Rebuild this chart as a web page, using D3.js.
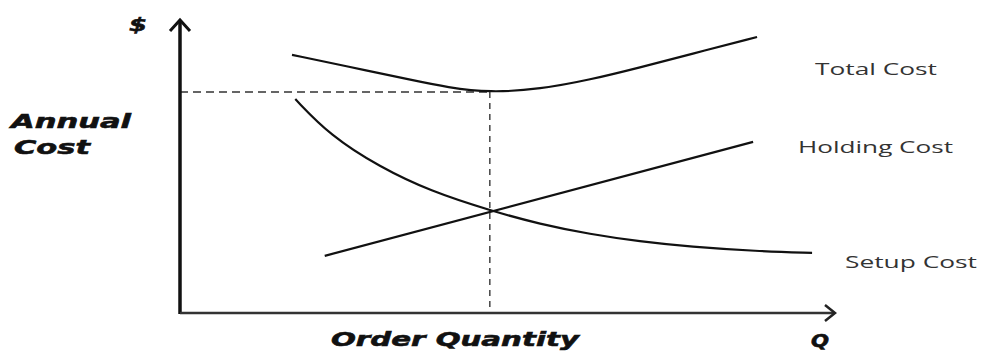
<!DOCTYPE html>
<html>
<head>
<meta charset="utf-8">
<script src="https://cdn.jsdelivr.net/npm/d3@7"></script>
<style>
  html, body { margin: 0; padding: 0; background: #fff; }
  svg { display: block; }
</style>
</head>
<body>
<svg id="chart" width="982" height="351"></svg>
<script>
// ---- data (arbitrary units) ----
const totalCostQ = [17.1, 25.5, 35.6, 40.8, 47.3, 55.0, 62.6, 70.2, 77.9, 88.1];
const totalCostC = [88.1, 84.2, 79.4, 77.0, 75.2, 76.4, 79.6, 83.8, 88.3, 94.2];

const setupCostQ = [17.6, 22.9, 30.5, 38.2, 47.3, 55.0, 62.6, 70.2, 77.9, 88.1, 96.5];
const setupCostC = [73.0, 60.6, 49.8, 41.6, 35.0, 30.3, 26.9, 24.4, 22.6, 21.1, 20.5];

const holdingCostQ = [22.1, 87.5];
const holdingCostC = [19.5, 58.4];

const eoqQ = 47.3;
const eoqC = 75.4;

const seriesLabels = ["Total Cost", "Holding Cost", "Setup Cost"];
const axisLabels = { yTop: "$", yTitle: ["Annual", "Cost"], xTitle: "Order Quantity", xEnd: "Q" };

// ---- scales ----
const x = d3.scaleLinear().domain([0, 100]).range([180, 835]);
const y = d3.scaleLinear().domain([0, 100]).range([313, 20]);

const svg = d3.select("#chart");

const line = d3.line().x(d => x(d[0])).y(d => y(d[1])).curve(d3.curveBasis);
const zip = (a, b) => a.map((v, i) => [v, b[i]]);

// dashed guides
svg.append("line")
  .attr("x1", x(0)).attr("x2", x(eoqQ))
  .attr("y1", y(eoqC)).attr("y2", y(eoqC))
  .attr("stroke", "#333").attr("stroke-width", 1.5).attr("stroke-dasharray", "8,5");
svg.append("line")
  .attr("x1", x(eoqQ)).attr("x2", x(eoqQ))
  .attr("y1", y(eoqC)).attr("y2", y(0))
  .attr("stroke", "#444").attr("stroke-width", 1.5).attr("stroke-dasharray", "6,5");

// curves
[[totalCostQ, totalCostC], [setupCostQ, setupCostC], [holdingCostQ, holdingCostC]].forEach(([q, c]) => {
  svg.append("path")
    .attr("d", line(zip(q, c)))
    .attr("fill", "none")
    .attr("stroke", "#111")
    .attr("stroke-width", 2.2);
});

// axes
svg.append("line")
  .attr("x1", x(0)).attr("x2", x(0)).attr("y1", y(0) + 1).attr("y2", y(100) + 1)
  .attr("stroke", "#111").attr("stroke-width", 3.5);
svg.append("path")
  .attr("d", `M${x(0) - 10},${y(100) + 11} L${x(0)},${y(100)} L${x(0) + 10},${y(100) + 11}`)
  .attr("fill", "none").attr("stroke", "#111").attr("stroke-width", 3);

svg.append("line")
  .attr("x1", x(0)).attr("x2", x(100) - 1).attr("y1", y(0)).attr("y2", y(0))
  .attr("stroke", "#333").attr("stroke-width", 2.5);
svg.append("path")
  .attr("d", `M${x(100) - 10},${y(0) - 8} L${x(100)},${y(0)} L${x(100) - 10},${y(0) + 8}`)
  .attr("fill", "none").attr("stroke", "#222").attr("stroke-width", 2.5);

// heavy italic labels
const heavy = (sel) => sel
  .attr("font-family", "'DejaVu Sans', sans-serif")
  .attr("font-weight", "bold")
  .attr("font-style", "italic")
  .attr("fill", "#111")
  .attr("stroke", "#111").attr("stroke-width", 0.6);

heavy(svg.append("text")).attr("x", 129).attr("y", 31).attr("font-size", 17)
  .attr("textLength", 18).attr("lengthAdjust", "spacingAndGlyphs").text(axisLabels.yTop);
heavy(svg.append("text")).attr("x", 11).attr("y", 128).attr("font-size", 20)
  .attr("textLength", 120).attr("lengthAdjust", "spacingAndGlyphs").text(axisLabels.yTitle[0]);
heavy(svg.append("text")).attr("x", 14).attr("y", 154).attr("font-size", 20)
  .attr("textLength", 76).attr("lengthAdjust", "spacingAndGlyphs").text(axisLabels.yTitle[1]);
heavy(svg.append("text")).attr("x", 331).attr("y", 346).attr("font-size", 20)
  .attr("textLength", 248).attr("lengthAdjust", "spacingAndGlyphs").text(axisLabels.xTitle);
heavy(svg.append("text")).attr("x", 811).attr("y", 347).attr("font-size", 17)
  .attr("textLength", 18).attr("lengthAdjust", "spacingAndGlyphs").text(axisLabels.xEnd);

// series labels
const labelPos = [[815, 75, 122], [798, 153, 155], [845, 268, 132]];
seriesLabels.forEach((t, i) => {
  svg.append("text")
    .attr("x", labelPos[i][0]).attr("y", labelPos[i][1])
    .attr("font-family", "'Open Sans', 'Liberation Sans', sans-serif")
    .attr("font-size", 16)
    .attr("fill", "#333")
    .attr("textLength", labelPos[i][2]).attr("lengthAdjust", "spacingAndGlyphs")
    .text(t);
});
</script>
</body>
</html>
